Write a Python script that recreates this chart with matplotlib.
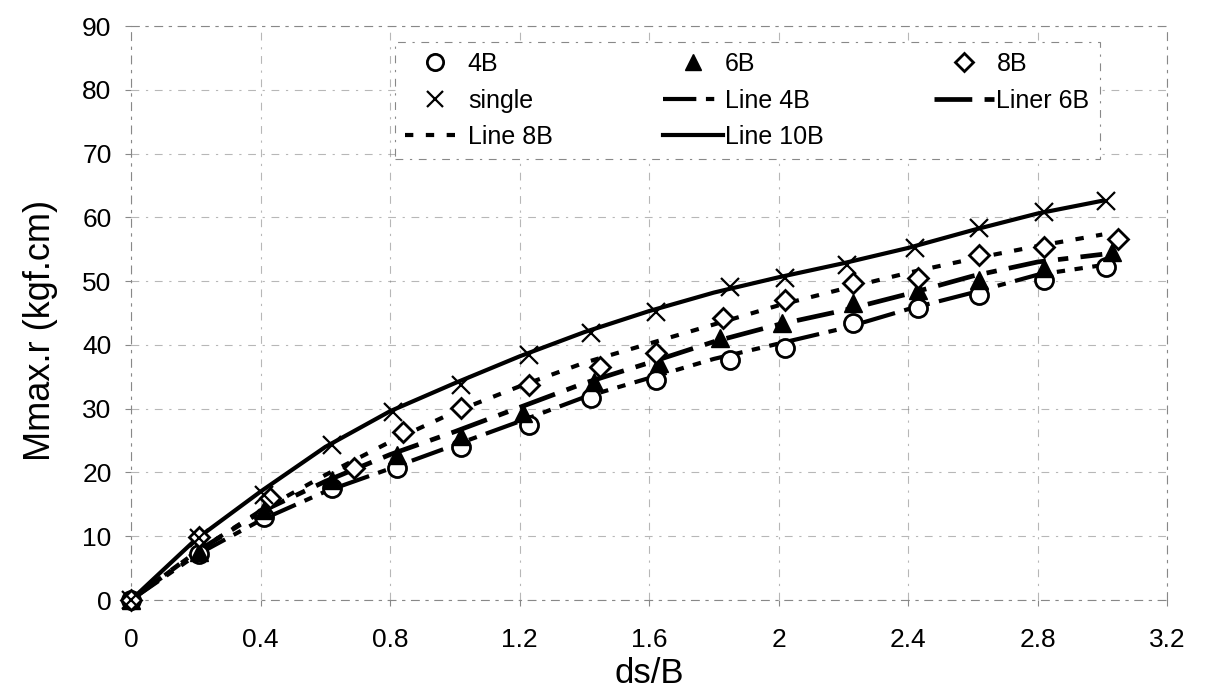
import matplotlib
matplotlib.use("Agg")
import matplotlib.pyplot as plt

plt.rcParams['font.family'] = ['Liberation Sans', 'DejaVu Sans']

# ---- data ----
x_4B = [0, 0.21, 0.41, 0.62, 0.82, 1.02, 1.23, 1.42, 1.62, 1.85, 2.02, 2.23, 2.43, 2.62, 2.82, 3.01]
y_4B = [0, 7.2, 13.0, 17.5, 20.7, 24.0, 27.4, 31.7, 34.5, 37.6, 39.5, 43.4, 45.8, 47.8, 50.2, 52.2]

x_6B = [0, 0.21, 0.41, 0.62, 0.82, 1.02, 1.21, 1.43, 1.63, 1.82, 2.01, 2.23, 2.43, 2.62, 2.82, 3.03]
y_6B = [0, 7.6, 14.1, 18.8, 22.8, 25.7, 29.3, 34.2, 37.1, 41.1, 43.4, 46.5, 48.6, 50.2, 52.0, 54.5]

x_8B = [0, 0.21, 0.43, 0.69, 0.84, 1.02, 1.23, 1.45, 1.62, 1.83, 2.02, 2.23, 2.43, 2.62, 2.82, 3.05]
y_8B = [0, 9.9, 16.0, 20.7, 26.3, 30.1, 33.7, 36.5, 38.7, 44.2, 47.0, 49.7, 50.5, 54.1, 55.3, 56.6]

x_single = [0, 0.21, 0.41, 0.62, 0.81, 1.02, 1.23, 1.42, 1.62, 1.85, 2.02, 2.21, 2.42, 2.62, 2.82, 3.01]
y_single = [0, 9.8, 16.5, 24.3, 29.5, 33.7, 38.4, 41.8, 45.1, 49.1, 50.5, 52.5, 55.2, 58.3, 60.8, 62.6]

x_line = [0, 0.2, 0.4, 0.6, 0.8, 1.0, 1.2, 1.4, 1.6, 1.8, 2.0, 2.2, 2.4, 2.6, 2.8, 3.0]
line_4B = [0, 7.0, 12.5, 17.0, 20.6, 24.3, 28.0, 31.8, 34.8, 37.8, 40.2, 42.6, 45.6, 48.2, 51.0, 52.5]
line_6B = [0, 7.5, 13.8, 18.6, 22.8, 26.4, 30.2, 34.0, 37.2, 40.5, 43.2, 45.4, 48.0, 50.8, 53.0, 54.2]
line_8B = [0, 7.5, 14.0, 19.6, 24.8, 29.5, 33.5, 37.2, 40.2, 43.2, 46.2, 48.8, 51.3, 53.5, 55.5, 57.3]
line_10B = [0, 9.5, 17.0, 24.0, 29.6, 34.0, 38.2, 42.0, 45.3, 48.2, 50.6, 52.8, 55.2, 58.0, 60.6, 62.6]

x_ticks = [0, 0.4, 0.8, 1.2, 1.6, 2.0, 2.4, 2.8, 3.2]
x_ticklabels = ['0', '0.4', '0.8', '1.2', '1.6', '2', '2.4', '2.8', '3.2']
y_ticks = [0, 10, 20, 30, 40, 50, 60, 70, 80, 90]

# ---- figure ----
fig = plt.figure(figsize=(12.11, 6.99), dpi=100)
ax = fig.add_axes([0.1082, 0.1416, 0.8555, 0.8212])

grid_style = dict(color='#888888', linewidth=0.8, linestyle=(0, (7, 6, 2, 6)), alpha=0.6)
ax.set_axisbelow(True)
ax.grid(True, **grid_style)

# fitted lines
l4, = ax.plot(x_line, line_4B, color='black', lw=3.0,
              linestyle=(0, (8, 2.3, 2, 2.3, 2, 2.3)), label='Line 4B', zorder=3)
l6, = ax.plot(x_line, line_6B, color='black', lw=3.4,
              linestyle=(0, (8, 2.6, 2.2, 2.6)), label='Liner 6B', zorder=3)
l8, = ax.plot(x_line, line_8B, color='black', lw=3.0,
              linestyle=(0, (2, 3)), label='Line 8B', zorder=3)
l10, = ax.plot(x_line, line_10B, color='black', lw=3.0,
               linestyle='-', label='Line 10B', zorder=3)

# markers
m4, = ax.plot(x_4B, y_4B, linestyle='none', marker='o', markersize=13,
              markerfacecolor='white', markeredgecolor='black', markeredgewidth=2.0,
              label='4B', zorder=5, clip_on=False)
m6, = ax.plot(x_6B, y_6B, linestyle='none', marker='^', markersize=13,
              markerfacecolor='black', markeredgecolor='black', markeredgewidth=1.0,
              label='6B', zorder=5, clip_on=False)
m8, = ax.plot(x_8B, y_8B, linestyle='none', marker='D', markersize=10,
              markerfacecolor='white', markeredgecolor='black', markeredgewidth=2.0,
              label='8B', zorder=5, clip_on=False)
ms, = ax.plot(x_single, y_single, linestyle='none', marker='x', markersize=13,
              markeredgecolor='black', markeredgewidth=1.6, label='single', zorder=6,
              clip_on=False)

ax.set_xlim(0, 3.2)
ax.set_ylim(0, 90)
ax.set_xticks(x_ticks)
ax.set_xticklabels(x_ticklabels)
ax.set_yticks(y_ticks)
ax.tick_params(axis='x', labelsize=19, pad=16, length=4, color='#888888')
ax.tick_params(axis='y', labelsize=19, pad=10, length=4, color='#888888')

for s in ax.spines.values():
    s.set_color('#888888')
    s.set_linewidth(0.8)
    s.set_linestyle((0, (7, 6, 2, 6)))

ax.set_xlabel('ds/B', fontsize=25, labelpad=4)
ax.set_ylabel('Mmax.r (kgf.cm)', fontsize=26)
ax.yaxis.set_label_coords(-0.0705, 0.469)

# legend, row-wise order emulated for 3 columns
handles = [m4, ms, l8, m6, l4, l10, m8, l6]
labels = [h.get_label() for h in handles]
leg = ax.legend(handles, labels, ncol=3, loc='upper center',
                bbox_to_anchor=(0.595, 0.972), borderaxespad=0, fontsize=18,
                handlelength=2.4, handletextpad=0.1, columnspacing=4.4,
                labelspacing=0.5, frameon=True, fancybox=False,
                borderpad=0.4, facecolor='white', framealpha=1.0,
                markerscale=0.9)
fr = leg.get_frame()
fr.set_edgecolor('#888888')
fr.set_linewidth(0.8)
fr.set_linestyle((0, (7, 6, 2, 6)))

fig.savefig('out.png', dpi=100)
